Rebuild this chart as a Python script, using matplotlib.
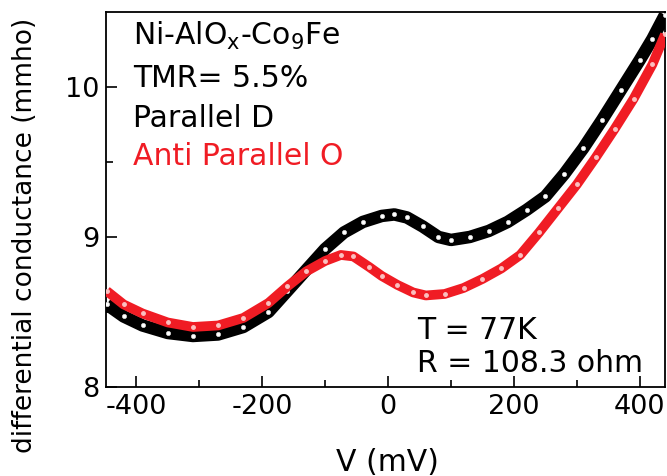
import numpy as np
import matplotlib.pyplot as plt

# bias voltage (mV) and differential conductance (mmho)
v_par = [-447, -420, -390, -350, -310, -270, -230, -190, -160, -130, -100,
         -70, -40, -10, 10, 30, 55, 80, 100, 130, 160, 190, 220, 250, 280,
         310, 340, 370, 400, 420, 440]
g_par = [8.55, 8.47, 8.41, 8.36, 8.34, 8.35, 8.40, 8.50, 8.64, 8.78, 8.92,
         9.03, 9.10, 9.14, 9.15, 9.13, 9.07, 9.00, 8.98, 9.00, 9.04, 9.10,
         9.18, 9.27, 9.42, 9.59, 9.78, 9.98, 10.18, 10.32, 10.48]

v_anti = [-447, -420, -390, -350, -310, -270, -230, -190, -160, -130, -100,
          -75, -55, -30, -10, 15, 40, 60, 90, 120, 150, 180, 210, 240, 270,
          300, 330, 360, 390, 420, 440]
g_anti = [8.64, 8.55, 8.49, 8.43, 8.40, 8.41, 8.46, 8.56, 8.67, 8.77, 8.84,
          8.88, 8.87, 8.80, 8.74, 8.68, 8.63, 8.61, 8.62, 8.66, 8.72, 8.79,
          8.88, 9.03, 9.19, 9.35, 9.53, 9.72, 9.92, 10.15, 10.35]

RED = "#f01c24"

plt.rcParams["font.family"] = ["DejaVu Sans"]
plt.rcParams["axes.unicode_minus"] = False

fig = plt.figure(figsize=(6.67, 4.76), dpi=100)
ax = fig.add_axes([0.159, 0.187, 0.838, 0.788])

# thick band + small white holes to mimic the dense open-circle markers
ax.plot(v_par, g_par, color="black", lw=9, solid_capstyle="butt", zorder=2)
ax.plot(v_par, g_par, ls="none", marker="o", ms=3, mfc="white",
        mec="#dddddd", mew=0.5, zorder=3)
ax.plot(v_anti, g_anti, color=RED, lw=7, solid_capstyle="butt", zorder=4)
ax.plot(v_anti, g_anti, ls="none", marker="o", ms=2.5, mfc="#fbc0c0",
        mec="#fbc0c0", zorder=5)

ax.set_xlim(-448, 440)
ax.set_ylim(8, 10.5)
ax.set_xticks([-400, -200, 0, 200, 400])
ax.set_xticks([-300, -100, 100, 300], minor=True)
ax.set_yticks([8, 9, 10])
ax.set_yticks([8.5, 9.5], minor=True)
ax.tick_params(which="both", direction="in", top=False, right=False,
               labelsize=19.5, width=1.2)
ax.tick_params(which="major", length=8, pad=5)
ax.tick_params(which="minor", length=5)
for s in ax.spines.values():
    s.set_linewidth(1.3)

ax.set_xlabel("V (mV)", fontsize=21.5)
ax.xaxis.set_label_coords(0.503, -0.2)
ax.xaxis.label.set_va("center")
ax.set_ylabel("differential conductance (mmho)", fontsize=19)
ax.yaxis.set_label_coords(-0.145, 0.405)
ax.yaxis.label.set_va("center")

ax.text(0.048, 0.912, "Ni-AlO$_\\mathregular{x}$-Co$_\\mathregular{9}$Fe",
        transform=ax.transAxes, fontsize=21.5, va="baseline")
ax.text(0.048, 0.80, "TMR= 5.5%", transform=ax.transAxes, fontsize=21.5,
        va="baseline")
ax.text(0.048, 0.693, "Parallel D", transform=ax.transAxes, fontsize=21.5,
        va="baseline")
ax.text(0.048, 0.592, "Anti Parallel O", transform=ax.transAxes,
        fontsize=21.5, va="baseline", color=RED)
ax.text(0.556, 0.128, "T = 77K", transform=ax.transAxes, fontsize=21.5,
        va="baseline")
ax.text(0.556, 0.04, "R = 108.3 ohm", transform=ax.transAxes, fontsize=21.5,
        va="baseline")

fig.savefig("out.png", dpi=100)
